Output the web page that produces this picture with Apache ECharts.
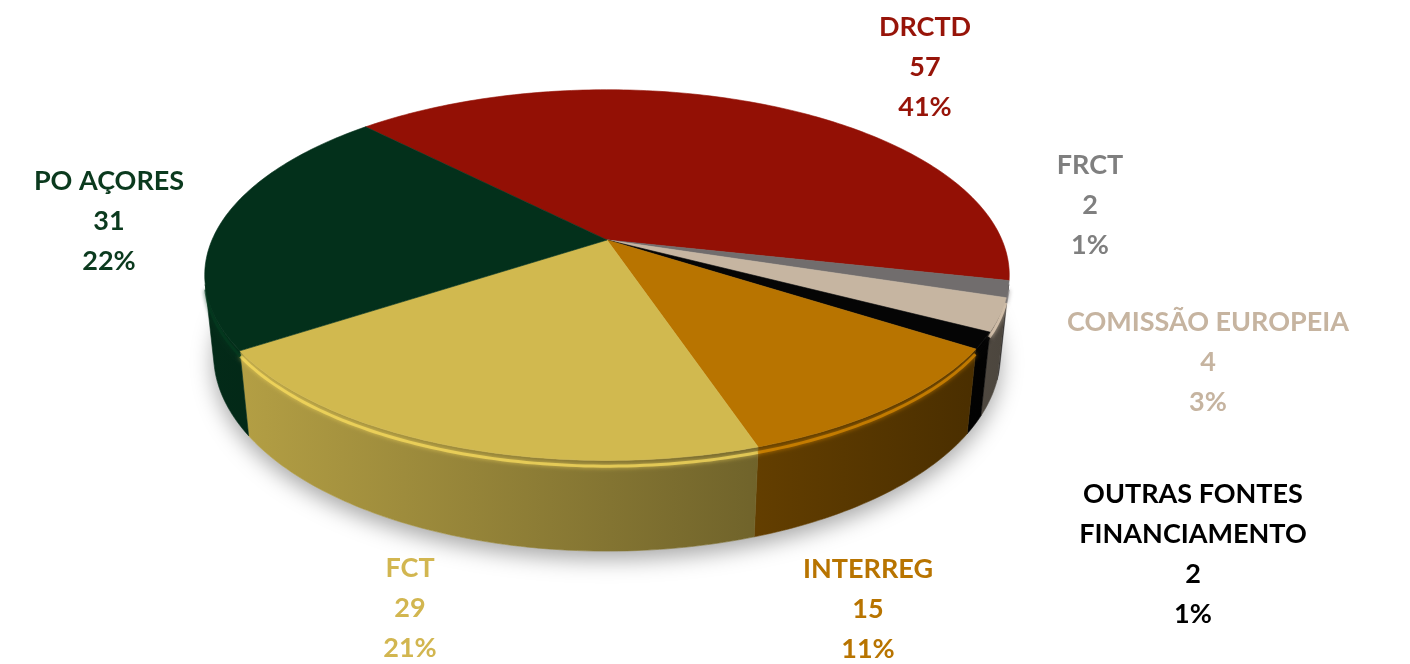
<!DOCTYPE html>
<html>
<head>
<meta charset="utf-8">
<title>Fontes de financiamento</title>
<script src="https://cdn.jsdelivr.net/npm/echarts@6/dist/echarts.min.js"></script>
<style>
  html, body { margin: 0; padding: 0; background: #fff; }
  #chart { width: 1410px; height: 664px; }
</style>
</head>
<body>
<div id="chart"></div>
<script>
// dados
const categories = ['DRCTD', 'FRCT', 'COMISSÃO EUROPEIA', 'OUTRAS FONTES\nFINANCIAMENTO', 'INTERREG', 'FCT', 'PO AÇORES'];
const values = [57, 2, 4, 2, 15, 29, 31];

// estilo
const sliceColors = ['#931005', '#716d6d', '#c6b5a1', '#050505', '#b87400', '#d1b94f', '#03301b'];
const labelColors = ['#971409', '#7f7f7f', '#c6b4a0', '#000000', '#b87400', '#d2b650', '#0b3a1e'];
const labelAnchors = [[925, 67], [1090, 205], [1208, 362], [1193, 554], [868, 609], [410, 608], [109, 221]];

// vista 3D em perspectiva
const view = { cx: 607, cy: 240, scale: 395, dist: 4.71, elev: 26.9, depth: 0.228, startAngle: 134 };

const total = values.reduce((a, b) => a + b, 0);
const sinE = Math.sin(view.elev * Math.PI / 180);
const cosE = Math.cos(view.elev * Math.PI / 180);

// angulos acumulados (sentido horario)
const angles = [];
let acc = 0;
values.forEach(v => {
  const a0 = view.startAngle * Math.PI / 180 - acc / total * Math.PI * 2;
  acc += v;
  const a1 = view.startAngle * Math.PI / 180 - acc / total * Math.PI * 2;
  angles.push([a1, a0]);
});

function project(theta, r, z) {
  const x = r * Math.cos(theta), y = r * Math.sin(theta);
  const u = y * sinE + z * cosE;
  const w = view.dist + y * cosE - z * sinE;
  const k = view.scale * view.dist / w;
  return [view.cx + x * k, view.cy - u * k];
}

function arc(lo, hi, z) {
  const pts = [];
  const n = Math.max(2, Math.ceil((hi - lo) / (Math.PI / 180)));
  for (let i = 0; i <= n; i++) {
    pts.push(project(lo + (hi - lo) * i / n, 1, z));
  }
  return pts;
}

function shade(hex, f) {
  const n = parseInt(hex.slice(1), 16);
  const c = [(n >> 16) & 255, (n >> 8) & 255, n & 255].map(v => Math.round(Math.min(255, v * f)));
  return 'rgb(' + c.join(',') + ')';
}

// parte visivel da parede lateral
const alpha = Math.asin(1 / (view.dist * cosE));
const visLo = -Math.PI + alpha;
const visHi = -alpha;

function renderItem(params, api) {
  const i = params.dataIndex;
  const color = sliceColors[i];
  const [lo, hi] = angles[i];
  const children = [];

  if (i === 0) {
    // sombra sob o grafico
    children.push({
      type: 'polygon',
      z2: 0,
      shape: { points: arc(-Math.PI, Math.PI, -view.depth) },
      style: { fill: '#ffffff', shadowBlur: 22, shadowColor: 'rgba(0,0,0,0.35)', shadowOffsetY: 8 }
    });
  }

  const wLo = Math.max(lo, visLo);
  const wHi = Math.min(hi, visHi);
  if (wHi > wLo) {
    const top = arc(wLo, wHi, 0);
    const bottom = arc(wLo, wHi, -view.depth).reverse();
    const grad = new echarts.graphic.LinearGradient(204, 0, 1010, 0, [
      { offset: 0, color: shade(color, 0.88) },
      { offset: 1, color: shade(color, 0.38) }
    ], true);
    children.push({
      type: 'polygon',
      z2: 2,
      shape: { points: top.concat(bottom) },
      style: { fill: grad, stroke: grad, lineWidth: 0.6 }
    });
    // brilho do bisel
    children.push({
      type: 'polyline',
      z2: 3,
      shape: { points: arc(wLo, wHi, -0.014) },
      style: { stroke: shade(color, 1.2), lineWidth: 3, opacity: 0.7, fill: null, shadowBlur: 4, shadowColor: shade(color, 1.2) }
    });
  }

  // face superior
  children.push({
    type: 'polygon',
    z2: 10,
    shape: { points: [project(0, 0, 0)].concat(arc(lo, hi, 0)) },
    style: { fill: color, stroke: color, lineWidth: 0.6 }
  });

  // rotulo
  const v = api.value(0);
  children.push({
    type: 'text',
    z2: 20,
    x: labelAnchors[i][0],
    y: labelAnchors[i][1],
    style: {
      text: categories[i] + '\n' + v + '\n' + Math.round(v / total * 100) + '%',
      fill: labelColors[i],
      font: 'bold 27px Lato, "Open Sans", sans-serif',
      align: 'center',
      verticalAlign: 'middle',
      lineHeight: 40
    }
  });

  return { type: 'group', children: children };
}

const chart = echarts.init(document.getElementById('chart'));
chart.setOption({
  animation: false,
  backgroundColor: '#ffffff',
  series: [{
    type: 'custom',
    coordinateSystem: 'none',
    renderItem: renderItem,
    data: values.map((v, i) => ({ name: categories[i], value: v }))
  }]
});
</script>
</body>
</html>
